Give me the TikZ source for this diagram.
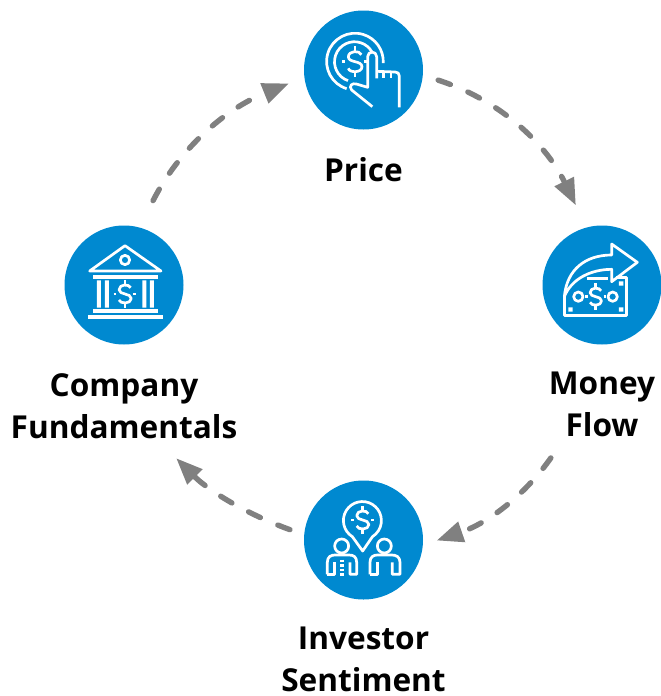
\documentclass[tikz,border=0pt]{standalone}
\usepackage{fontspec}
\setmainfont{Open Sans}
\usetikzlibrary{arrows.meta}
\usetikzlibrary{positioning}
\definecolor{hubblue}{HTML}{0089D0}
\definecolor{flowgray}{HTML}{808080}
\newcommand{\dollarmark}[3]{%
	\begin{scope}[shift={(#1,#2)},scale=#3]
		\draw (20,-22) .. controls (16,-36) and (-21,-36) .. (-21,-15) .. controls (-21,4) and (22,-4) .. (22,16) .. controls (22,36) and (-18,36) .. (-21,21);
		\draw (0,-50) -- (0,-30);
		\draw (0,30) -- (0,50);
		\draw (-40,0) -- (-30,0);
		\draw (30,0) -- (40,0);
	\end{scope}}

\begin{document}
\begin{tikzpicture}[x=1pt,y=-1pt,auto,node distance=100pt]
	\tikzstyle{hub}=[circle,fill=hubblue,minimum size=119pt,inner sep=0pt]
	\tikzstyle{caption}=[font=\fontsize{31.6}{42}\selectfont\bfseries,align=center,inner sep=0pt,text=black]
	\tikzstyle{flow}=[draw=flowgray,fill=none,line width=5.4pt,line cap=round,dash pattern=on 13pt off 19pt,-{Triangle[length=26pt,width=22pt,fill=flowgray,line width=0pt]}]
	\tikzstyle{glyph}=[draw=white,line width=2.7pt,line join=round]
	
	\useasboundingbox (0,0) rectangle (661,696);
	
	\node[hub]     (Price)    at (363.5,70)   {};
	\node[hub]     (Money)    at (602,285)    {};
	\node[hub]     (Investor) at (363.5,540)  {};
	\node[hub]     (Company)  at (124,285)    {};
	
	\node[caption] (PriceLabel)    [below of=Price]                       {Price};
	\node[caption] (MoneyLabel)    [below of=Money,node distance=119pt]   {Money\\Flow};
	\node[caption] (InvestorLabel) [below of=Investor,node distance=119pt] {Investor\\Sentiment};
	\node[caption] (CompanyLabel)  [below of=Company,node distance=121pt] {Company\\Fundamentals};
	
	\path (Price.-5) edge[flow,out=-18,in=116,shorten <=16pt,shorten >=25pt]  (Money.105)
	(MoneyLabel.-138) edge[flow,out=235,in=19,shorten <=26pt,shorten >=15pt]  (Investor.-5)
	(Investor.175) edge[flow,out=160,in=-45,shorten <=15pt,shorten >=28pt]  (CompanyLabel.-45)
	(Company.75) edge[flow,out=63,in=202,shorten <=30pt,shorten >=17pt]  (Price.187);
	
	% price
	\begin{scope}[shift={(295,0)},x=0.3333pt,y=-0.3333pt,glyph]
		\draw (155,266) arc[start angle=107,end angle=363,radius=85];
		\draw (159,242) arc[start angle=109,end angle=330,radius=60];
		\dollarmark{180}{185}{0.95}
		\draw (232,320) -- (170,270) .. controls (160,258) and (172,248) .. (184,252) -- (218,262) -- (218,170) .. controls (218,152) and (245,152) .. (245,170) -- (245,235);
		\draw (245,214) -- (300,216) .. controls (308,216) and (313,220) .. (313,228) -- (313,322);
		\draw (266,215) -- (266,233);
		\draw (288,215) -- (288,233);
	\end{scope}
	
	% money
	\begin{scope}[shift={(535,220)},x=0.3333pt,y=-0.3333pt,glyph]
		\draw (307,127) -- (230,72) -- (230,105) .. controls (150,105) and (95,150) .. (88,230) .. controls (110,175) and (170,148) .. (230,148) -- (230,185) -- cycle;
		\draw (88,230) -- (88,287) -- (275,287) -- (275,172) -- (242,172);
		\draw[line width=3.3pt] (155,175) -- (220,175);
		\fill[white] (100,262) rectangle (113,275) (252,262) rectangle (265,275) (252,184) rectangle (265,197);
		\draw (130,230) circle[radius=14];
		\draw (233,230) circle[radius=14];
		\dollarmark{182}{230}{0.8}
	\end{scope}
	
	% investor
	\begin{scope}[shift={(295,475)},x=0.3333pt,y=-0.3333pt,glyph]
		\draw (203,228) -- (172,185) arc[start angle=122,end angle=418,radius=57] -- cycle;
		\dollarmark{203}{135}{0.85}
		\draw (140,213) circle[radius=21];
		\draw (268,213) circle[radius=21];
		\draw (97,298) -- (97,262) .. controls (97,245) and (108,240) .. (120,240) -- (162,240) .. controls (175,240) and (185,245) .. (185,262) -- (185,298) -- (165,298) -- (165,262);
		\draw (97,298) -- (118,298) -- (118,262);
		\draw[line width=3.6pt,dash pattern=on 2.5pt off 2pt] (141,254) -- (141,302);
		\draw (225,298) -- (225,262) .. controls (225,245) and (236,240) .. (248,240) -- (290,240) .. controls (303,240) and (315,245) .. (315,262) -- (315,298) -- (292,298) -- (292,262);
		\draw (225,298) -- (247,298) -- (247,262);
	\end{scope}
	
	% company
	\begin{scope}[shift={(55,220)},x=0.3333pt,y=-0.3333pt,glyph]
		\draw (210,77) -- (104,153) -- (318,153) -- cycle;
		\draw (210,120) circle[radius=14];
		\fill[white] (113,165) rectangle (310,177);
		\fill[white] (126,181) rectangle (138,263) (150,181) rectangle (162,263);
		\fill[white] (262,181) rectangle (274,263) (285,181) rectangle (297,263);
		\fill[white] (113,267) rectangle (310,279);
		\fill[white] (99,286) rectangle (325,297);
		\dollarmark{210}{222}{0.85}
	\end{scope}
\end{tikzpicture}
\end{document}
